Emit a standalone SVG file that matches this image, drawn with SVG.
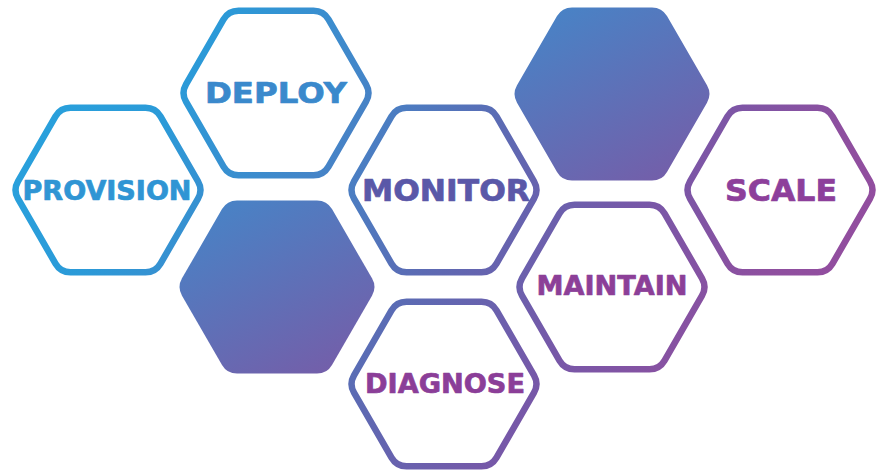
<svg xmlns="http://www.w3.org/2000/svg" width="885" height="476" viewBox="0 0 885 476">
  <style>
    .ring { fill: none; stroke: url(#strokeGrad); stroke-width: 6.5; stroke-linejoin: round; }
    .solid { fill: url(#fillGrad); }
    .label { font-family: "DejaVu Sans", "Liberation Sans", sans-serif; font-weight: 700; text-anchor: middle; stroke-width: 0.7; stroke-linejoin: round; }
  </style>
  <defs>
    <!-- shared diagonal blue-to-purple sweep across the outline hexagons -->
    <linearGradient id="strokeGrad" gradientUnits="userSpaceOnUse" x1="0" y1="0" x2="885" y2="476">
      <stop offset="0" stop-color="#27a5df"/>
      <stop offset="0.2" stop-color="#2b9ad8"/>
      <stop offset="0.35" stop-color="#4386c9"/>
      <stop offset="0.5" stop-color="#5c6ab3"/>
      <stop offset="0.65" stop-color="#7658a8"/>
      <stop offset="0.8" stop-color="#8e4f9f"/>
      <stop offset="1" stop-color="#9a4a9e"/>
    </linearGradient>
    <linearGradient id="fillGrad" x1="0.2" y1="0" x2="0.8" y2="1">
      <stop offset="0" stop-color="#4883c6"/>
      <stop offset="1" stop-color="#745ea9"/>
    </linearGradient>
    <path id="solidHex" d="M 95,-8.66 Q 100,0 95,8.66 L 55,77.94 Q 50,86.6 40,86.6 L -40,86.6 Q -50,86.6 -55,77.94 L -95,8.66 Q -100,0 -95,-8.66 L -55,-77.94 Q -50,-86.6 -40,-86.6 L 40,-86.6 Q 50,-86.6 55,-77.94 Z"/>
  </defs>

  <g id="connectors"></g>

  <g id="provision">
    <path class="ring" d="M 198,181.34 Q 203,190 198,198.66 L 160.5,263.61 Q 155.5,272.27 145.5,272.27 L 70.5,272.27 Q 60.5,272.27 55.5,263.61 L 18,198.66 Q 13,190 18,181.34 L 55.5,116.39 Q 60.5,107.73 70.5,107.73 L 145.5,107.73 Q 155.5,107.73 160.5,116.39 Z"/>
    <text class="label" x="107" y="200" font-size="26" fill="#2f95d4" stroke="#2f95d4" textLength="169" lengthAdjust="spacingAndGlyphs">PROVISION</text>
  </g>

  <g id="deploy">
    <path class="ring" d="M 366,84.34 Q 371,93 366,101.66 L 328.5,166.61 Q 323.5,175.27 313.5,175.27 L 238.5,175.27 Q 228.5,175.27 223.5,166.61 L 186,101.66 Q 181,93 186,84.34 L 223.5,19.39 Q 228.5,10.73 238.5,10.73 L 313.5,10.73 Q 323.5,10.73 328.5,19.39 Z"/>
    <text class="label" x="276" y="103" font-size="29" fill="#3a89cc" stroke="#3a89cc" textLength="142" lengthAdjust="spacingAndGlyphs">DEPLOY</text>
  </g>

  <g id="filled-top">
    <use href="#solidHex" class="solid" transform="translate(612,94)"/>
  </g>

  <g id="monitor">
    <path class="ring" d="M 534,181.34 Q 539,190 534,198.66 L 496.5,263.61 Q 491.5,272.27 481.5,272.27 L 406.5,272.27 Q 396.5,272.27 391.5,263.61 L 354,198.66 Q 349,190 354,181.34 L 391.5,116.39 Q 396.5,107.73 406.5,107.73 L 481.5,107.73 Q 491.5,107.73 496.5,116.39 Z"/>
    <text class="label" x="446" y="201" font-size="30" fill="#5a58a8" stroke="#5a58a8" textLength="168" lengthAdjust="spacingAndGlyphs">MONITOR</text>
  </g>

  <g id="scale">
    <path class="ring" d="M 870,181.34 Q 875,190 870,198.66 L 832.5,263.61 Q 827.5,272.27 817.5,272.27 L 742.5,272.27 Q 732.5,272.27 727.5,263.61 L 690,198.66 Q 685,190 690,181.34 L 727.5,116.39 Q 732.5,107.73 742.5,107.73 L 817.5,107.73 Q 827.5,107.73 832.5,116.39 Z"/>
    <text class="label" x="781" y="201" font-size="30" fill="#8d3f9b" stroke="#8d3f9b" textLength="112" lengthAdjust="spacingAndGlyphs">SCALE</text>
  </g>

  <g id="filled-bottom">
    <use href="#solidHex" class="solid" transform="translate(277,287)"/>
  </g>

  <g id="maintain">
    <path class="ring" d="M 702,278.34 Q 707,287 702,295.66 L 664.5,360.61 Q 659.5,369.27 649.5,369.27 L 574.5,369.27 Q 564.5,369.27 559.5,360.61 L 522,295.66 Q 517,287 522,278.34 L 559.5,213.39 Q 564.5,204.73 574.5,204.73 L 649.5,204.73 Q 659.5,204.73 664.5,213.39 Z"/>
    <text class="label" x="612" y="295" font-size="27" fill="#8c3f98" stroke="#8c3f98" textLength="151" lengthAdjust="spacingAndGlyphs">MAINTAIN</text>
  </g>

  <g id="diagnose">
    <path class="ring" d="M 534,375.34 Q 539,384 534,392.66 L 496.5,457.61 Q 491.5,466.27 481.5,466.27 L 406.5,466.27 Q 396.5,466.27 391.5,457.61 L 354,392.66 Q 349,384 354,375.34 L 391.5,310.39 Q 396.5,301.73 406.5,301.73 L 481.5,301.73 Q 491.5,301.73 496.5,310.39 Z"/>
    <text class="label" x="445" y="393" font-size="27" fill="#8b3e98" stroke="#8b3e98" textLength="160" lengthAdjust="spacingAndGlyphs">DIAGNOSE</text>
  </g>
</svg>
